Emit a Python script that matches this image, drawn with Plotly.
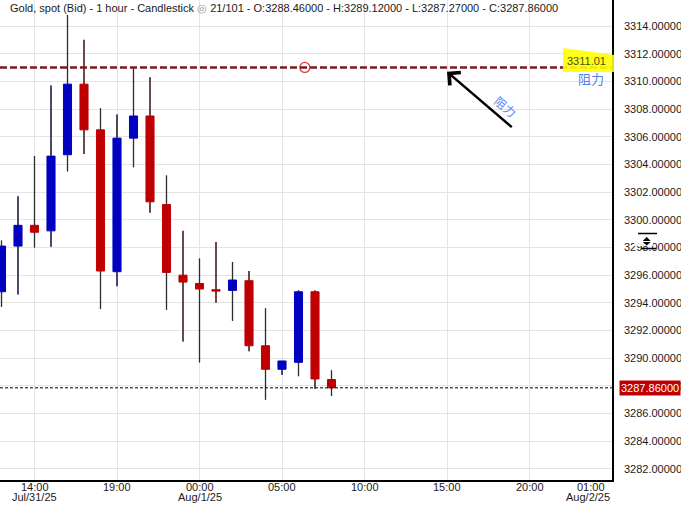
import plotly.graph_objects as go
import pandas as pd

# ---------------- data ----------------
times = pd.date_range("2025-07-31 12:00", periods=21, freq="h")
opens = [3294.8, 3298.1, 3299.6, 3299.2, 3304.7, 3309.8, 3306.5, 3296.25, 3305.9, 3307.5,
         3301.1, 3296.0, 3295.4, 3294.95, 3294.9, 3295.6, 3290.9, 3289.2, 3289.7, 3294.8, 3288.46]
highs = [3298.5, 3301.7, 3304.6, 3309.7, 3314.8, 3313.0, 3308.05, 3307.6, 3311.0, 3310.3,
         3303.2, 3299.2, 3297.2, 3298.4, 3296.95, 3296.3, 3293.6, 3289.8, 3294.9, 3294.9, 3289.12]
lows = [3293.7, 3294.6, 3298.0, 3298.05, 3303.5, 3304.75, 3293.55, 3295.2, 3303.8, 3300.5,
        3293.5, 3291.2, 3289.7, 3294.0, 3292.7, 3290.5, 3287.0, 3288.8, 3288.7, 3287.8, 3287.27]
closes = [3298.1, 3299.6, 3299.1, 3304.6, 3309.8, 3306.5, 3296.3, 3305.9, 3307.5, 3301.3,
          3296.2, 3295.5, 3295.0, 3294.85, 3295.65, 3290.9, 3289.2, 3289.8, 3294.8, 3288.5, 3287.86]

tick_times = ["2025-07-31 14:00", "2025-07-31 19:00", "2025-08-01 00:00", "2025-08-01 05:00",
              "2025-08-01 10:00", "2025-08-01 15:00", "2025-08-01 20:00", "2025-08-02 01:00"]
tick_text = ["14:00", "19:00", "00:00", "05:00", "10:00", "15:00", "20:00", "01:00"]
date_labels = [("2025-07-31 14:00", "Jul/31/25"), ("2025-08-01 00:00", "Aug/1/25")]
last_date_label = "Aug/2/25"

resistance = 3311.01
last_price = 3287.86
marker_time = "2025-08-01 06:23"
arrow_tip = ("2025-08-01 15:00", 3310.7)
arrow_tail = ("2025-08-01 19:01", 3306.6)
arrow_label_pos = ("2025-08-01 18:35", 3308.22)

x_range = ["2025-07-31 11:54:33", "2025-08-02 01:00"]
y_range = [3281.2, 3315.88]

BLUE = "#0000c0"
RED = "#c00000"
WICK = "#2d2d2d"
FONT = "Liberation Sans, Arial, sans-serif"
CJK = "Noto Sans CJK SC, sans-serif"
TXT = "#1a1a1a"

# plot area size (px) for paper-coordinate decorations
PW, PH = 612, 480
def px(x):
    return x / PW
def py(y):
    return 1 - y / PH

fig = go.Figure()

fig.add_trace(go.Candlestick(
    x=times, open=opens, high=highs, low=lows, close=closes,
    increasing=dict(fillcolor=BLUE, line=dict(color=BLUE, width=1)),
    decreasing=dict(fillcolor=RED, line=dict(color=RED, width=1)),
    whiskerwidth=0, showlegend=False, hoverinfo="skip"))

wx, wy = [], []
for t, o, h, l, c in zip(times, opens, highs, lows, closes):
    top, bot = max(o, c), min(o, c)
    wx += [t, t, None, t, t, None]
    wy += [h, top, None, bot, l, None]
fig.add_trace(go.Scatter(x=wx, y=wy, mode="lines", line=dict(color=WICK, width=1.3),
                         showlegend=False, hoverinfo="skip"))

fig.add_trace(go.Scatter(x=[marker_time], y=[resistance], mode="markers",
                         marker=dict(symbol="circle-open", size=10, color="#e33a3a",
                                     line=dict(width=1.3, color="#e33a3a")),
                         showlegend=False, hoverinfo="skip"))

shapes = [
    dict(type="line", xref="paper", x0=0, x1=1, yref="y", y0=resistance, y1=resistance,
         line=dict(color="#7a1c1c", width=2.5, dash="7px,3px")),
    dict(type="line", xref="paper", x0=0, x1=1, yref="y", y0=last_price, y1=last_price,
         line=dict(color="#000000", width=1, dash="3px,2px")),
    # yellow price tag
    dict(type="path", xref="paper", yref="paper",
         path=f"M{px(563)},{py(48)} L{px(614)},{py(55)} L{px(614)},{py(72)} L{px(563)},{py(72)} Z",
         fillcolor="#ffff00", line=dict(width=0), opacity=0.9),
    # small scroll icon on the price axis
    dict(type="rect", xref="paper", yref="paper", x0=px(634), x1=px(653), y0=py(246), y1=py(235),
         fillcolor="white", line=dict(width=0), opacity=0.85),
    dict(type="line", xref="paper", yref="paper", x0=px(638), x1=px(657), y0=py(233.5), y1=py(233.5),
         line=dict(color="black", width=1.5)),
    dict(type="line", xref="paper", yref="paper", x0=px(641), x1=px(656), y0=py(248.5), y1=py(248.5),
         line=dict(color="black", width=1.5)),
    dict(type="path", xref="paper", yref="paper",
         path=f"M{px(646.7)},{py(237)} L{px(650.7)},{py(241)} L{px(642.7)},{py(241)} Z",
         fillcolor="black", line=dict(width=0)),
    dict(type="path", xref="paper", yref="paper",
         path=f"M{px(642.7)},{py(242)} L{px(650.7)},{py(242)} L{px(646.7)},{py(245.5)} Z",
         fillcolor="black", line=dict(width=0)),
]

title = ("Gold, spot (Bid) - 1 hour - Candlestick <span style='color:#9a9a9a'>◎</span> 21/101 - "
         "O:3288.46000 - H:3289.12000 - L:3287.27000 - C:3287.86000")

annotations = [
    dict(text=title, xref="paper", yref="paper", x=px(8), y=py(8.5), xanchor="left",
         yanchor="middle", showarrow=False, font=dict(family=FONT, size=11, color=TXT)),
    dict(text="3311.01", xref="paper", yref="paper", x=px(586), y=py(61), xanchor="center",
         yanchor="middle", showarrow=False, font=dict(family=FONT, size=11, color="#4d4d12")),
    dict(text="阻力", xref="paper", yref="paper", x=px(591), y=py(78.5), xanchor="center",
         yanchor="middle", showarrow=False, font=dict(family=CJK, size=13, color="#4f80ea")),
    dict(text="3287.86000", xref="paper", yref="y", x=px(619), y=last_price, xanchor="left",
         yanchor="middle", showarrow=False, bgcolor=RED, borderpad=1,
         font=dict(family=FONT, size=11, color="white")),
    dict(text="", x=arrow_tip[0], y=arrow_tip[1], xref="x", yref="y",
         ax=arrow_tail[0], ay=arrow_tail[1], axref="x", ayref="y",
         showarrow=True, arrowhead=4, arrowsize=1.3, arrowwidth=2.5, arrowcolor="black"),
    dict(text="阻力", x=arrow_label_pos[0], y=arrow_label_pos[1], xref="x", yref="y",
         showarrow=False, textangle=40, font=dict(family=CJK, size=12, color="#5b8cf0")),
    dict(text=last_date_label, xref="paper", yref="paper", x=1.0, y=py(497.5), xanchor="right",
         yanchor="middle", showarrow=False, font=dict(family=FONT, size=11, color=TXT)),
]
# time labels along the x axis (last one is pulled inside the plot edge)
for i, (t, lab) in enumerate(zip(tick_times, tick_text)):
    if i == len(tick_times) - 1:
        annotations.append(dict(text=lab, xref="paper", yref="paper", x=px(591), y=py(487),
                                xanchor="center", yanchor="middle", showarrow=False,
                                font=dict(family=FONT, size=11, color=TXT)))
    else:
        annotations.append(dict(text=lab, xref="x", yref="paper", x=t, y=py(487),
                                xanchor="center", yanchor="middle", showarrow=False,
                                font=dict(family=FONT, size=11, color=TXT)))
for t, lab in date_labels:
    annotations.append(dict(text=lab, xref="x", yref="paper", x=t, y=py(497.5),
                            xanchor="center", yanchor="middle", showarrow=False,
                            font=dict(family=FONT, size=11, color=TXT)))

fig.update_layout(
    width=681, height=505,
    margin=dict(l=0, r=69, t=0, b=25, pad=0),
    paper_bgcolor="white", plot_bgcolor="white",
    showlegend=False,
    shapes=shapes,
    annotations=annotations,
    xaxis=dict(type="date", range=x_range, rangeslider=dict(visible=False),
               tickvals=tick_times, showticklabels=False, ticks="",
               showgrid=True, gridcolor="#e4e4e4", gridwidth=1,
               showline=True, linecolor="black", linewidth=1.5, zeroline=False),
    yaxis=dict(side="right", range=y_range, tick0=3282, dtick=2, tickformat=".5f",
               ticks="", ticklabelstandoff=8,
               showgrid=True, gridcolor="#e4e4e4", gridwidth=1,
               showline=True, linecolor="black", linewidth=1.5,
               tickfont=dict(family=FONT, size=11, color=TXT), zeroline=False),
)

fig.write_html("out.html", config={"displayModeBar": False},
               post_script="document.body.style.margin='0';")
